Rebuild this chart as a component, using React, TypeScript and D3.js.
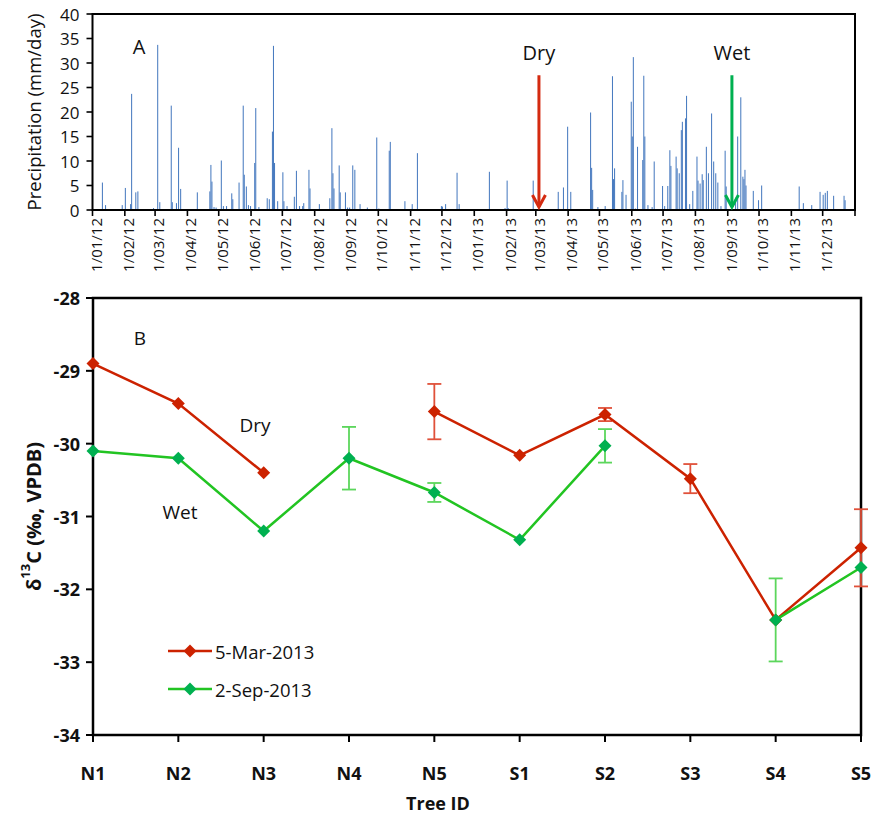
import React from 'react';
import * as d3 from 'd3';

// ---------- Panel A data: daily precipitation (mm/day) ----------
const rainDates = [
  '2012-01-10','2012-01-13','2012-01-29','2012-02-01','2012-02-06','2012-02-07','2012-02-11','2012-02-13','2012-02-28',
  '2012-03-03','2012-03-05','2012-03-16','2012-03-17','2012-03-21','2012-03-23','2012-03-25','2012-04-10','2012-04-22',
  '2012-04-23','2012-04-24','2012-04-26','2012-04-28','2012-05-03','2012-05-05','2012-05-08','2012-05-13','2012-05-14',
  '2012-05-20','2012-05-24','2012-05-25','2012-05-27','2012-05-29','2012-05-31','2012-06-04','2012-06-05','2012-06-08',
  '2012-06-16','2012-06-18','2012-06-21','2012-06-22','2012-06-23','2012-06-26','2012-07-01','2012-07-02','2012-07-05',
  '2012-07-12','2012-07-14','2012-07-17','2012-07-20','2012-07-21','2012-07-26','2012-07-27','2012-08-05','2012-08-15',
  '2012-08-17','2012-08-18','2012-08-19','2012-08-24','2012-08-25','2012-08-30','2012-09-01','2012-09-03','2012-09-06',
  '2012-09-08','2012-09-13','2012-09-20','2012-09-29','2012-10-01','2012-10-11','2012-10-12','2012-10-26','2012-11-02',
  '2012-11-07','2012-11-30','2012-12-01','2012-12-04','2012-12-15','2012-12-17',
  '2013-01-15','2013-01-30','2013-02-01','2013-02-02','2013-02-26','2013-03-22','2013-03-27','2013-03-31','2013-04-03',
  '2013-04-22','2013-04-23','2013-04-24','2013-04-29','2013-05-06','2013-05-13','2013-05-14','2013-05-15','2013-05-22',
  '2013-05-23','2013-05-26','2013-05-31','2013-06-01','2013-06-02','2013-06-04','2013-06-06','2013-06-11','2013-06-12',
  '2013-06-13','2013-06-16','2013-06-20','2013-06-22','2013-06-30','2013-07-02','2013-07-05','2013-07-07','2013-07-08',
  '2013-07-13','2013-07-14','2013-07-16','2013-07-18','2013-07-19','2013-07-22','2013-07-23','2013-07-26','2013-07-29',
  '2013-08-02','2013-08-03','2013-08-05','2013-08-07','2013-08-08','2013-08-11','2013-08-13','2013-08-16','2013-08-18',
  '2013-08-20','2013-08-22','2013-08-25','2013-08-29','2013-08-30','2013-09-08','2013-09-10','2013-09-13','2013-09-15',
  '2013-09-16','2013-09-17','2013-09-18','2013-09-25','2013-09-30','2013-10-03','2013-11-08','2013-11-12','2013-11-20',
  '2013-11-28','2013-12-01','2013-12-03','2013-12-05','2013-12-11','2013-12-21','2013-12-22',
];
const rainValues = [
  5.6, 1.0, 1.0, 4.5, 1.2, 23.7, 3.6, 3.8, 0.4,
  33.7, 1.6, 21.3, 1.6, 1.4, 12.7, 4.3, 3.6, 3.8,
  9.2, 5.8, 0.6, 0.5, 10.1, 0.8, 0.8, 3.4, 2.2,
  5.6, 21.3, 7.2, 4.8, 1.0, 0.8, 9.6, 20.8, 0.6,
  2.4, 2.2, 16.0, 33.5, 9.6, 1.8, 7.7, 1.8, 0.8,
  2.7, 8.0, 0.8, 0.8, 1.4, 8.2, 4.4, 1.2, 2.4,
  16.7, 7.5, 4.4, 9.1, 3.6, 3.6, 0.5, 0.5, 9.1,
  8.2, 1.2, 0.5, 14.8, 0.3, 12.1, 13.9, 1.8, 1.2,
  11.6, 0.8, 0.7, 1.2, 7.6, 1.2,
  7.8, 0.4, 6.0, 0.4, 6.0, 3.7, 4.6, 17.0, 3.7,
  19.9, 8.6, 4.1, 0.6, 0.8, 27.3, 6.3, 8.5, 3.7,
  6.1, 3.1, 22.1, 15.0, 31.2, 0.3, 12.9, 10.2, 27.4,
  15.0, 1.0, 0.6, 9.9, 4.9, 0.8, 4.9, 12.2, 9.0,
  10.9, 8.5, 7.5, 16.3, 18.0, 18.7, 23.3, 1.2, 3.9,
  10.9, 6.0, 5.4, 7.3, 6.1, 12.9, 7.5, 19.7, 9.9,
  7.5, 5.6, 0.8, 12.1, 4.8, 2.5, 15.0, 23.0, 6.8,
  6.3, 8.2, 5.0, 3.9, 2.0, 5.0, 4.8, 1.4, 1.0,
  3.7, 3.1, 3.5, 3.9, 2.9, 2.9, 2.0,
];
const rainTicks = [0, 5, 10, 15, 20, 25, 30, 35, 40];
const monthLabels = [
  '1/01/12','1/02/12','1/03/12','1/04/12','1/05/12','1/06/12','1/07/12','1/08/12','1/09/12','1/10/12','1/11/12','1/12/12',
  '1/01/13','1/02/13','1/03/13','1/04/13','1/05/13','1/06/13','1/07/13','1/08/13','1/09/13','1/10/13','1/11/13','1/12/13',
];
const samplingDates = ['2013-03-04', '2013-09-05'];
const samplingLabels = ['Dry', 'Wet'];

// ---------- Panel B data: δ13C by tree ----------
const trees = ['N1','N2','N3','N4','N5','S1','S2','S3','S4','S5'];
const dryValues: (number | null)[] = [-28.9, -29.45, -30.4, null, -29.56, -30.16, -29.6, -30.48, -32.42, -31.43];
const dryErrors: (number | null)[] = [0, 0, 0, null, 0.38, 0, 0.09, 0.2, 0, 0.53];
const wetValues: (number | null)[] = [-30.1, -30.2, -31.2, -30.2, -30.67, -31.32, -30.03, null, -32.42, -31.7];
const wetErrors: (number | null)[] = [0, 0, 0, 0.43, 0.13, 0, 0.23, null, 0.57, 0];
const c13Ticks = [-34, -33, -32, -31, -30, -29, -28];
const seriesNames = ['5-Mar-2013', '2-Sep-2013'];

const FONT = "'Open Sans', 'DejaVu Sans', sans-serif";
const RED = '#cc2200';
const RED_ERR = '#e0513a';
const GREEN_LINE = '#22c422';
const GREEN_MARK = '#00b050';
const GREEN_ERR = '#5cd65c';
const BAR = '#4a7cc0';

const parseDay = d3.utcParse('%Y-%m-%d');
const parseLabel = d3.utcParse('%d/%m/%y');

function diamond(x: number, y: number, r: number) {
  return `M${x},${y - r}L${x + r},${y}L${x},${y + r}L${x - r},${y}Z`;
}

export default function App() {
  // ---------- Panel A ----------
  const A = { l: 92.5, r: 855, t: 14, b: 210 };
  const x = d3.scaleUtc().domain([Date.UTC(2012, 0, 1), Date.UTC(2014, 0, 1)]).range([A.l, A.r]);
  const y = d3.scaleLinear().domain([0, 40]).range([A.b, A.t]);
  const monthTicks = d3.utcMonth.range(new Date(Date.UTC(2012, 0, 1)), new Date(Date.UTC(2014, 0, 2)));

  const bars = rainDates.map((s, i) => {
    const d = parseDay(s)!;
    const x0 = x(d);
    const x1 = x(d3.utcDay.offset(d, 1));
    return { x0, w: x1 - x0, y0: y(rainValues[i]) };
  });

  // ---------- Panel B ----------
  const B = { l: 93, r: 861, t: 298, b: 735 };
  const xt = d3.scalePoint<string>().domain(trees).range([B.l, B.r]).padding(0);
  const yc = d3.scaleLinear().domain([-34, -28]).range([B.b, B.t]);
  const line = d3.line<number | null>()
    .defined((v) => v != null)
    .x((_, i) => xt(trees[i])!)
    .y((v) => yc(v as number));

  const series = [
    { vals: dryValues, errs: dryErrors, line: RED, mark: RED, err: RED_ERR },
    { vals: wetValues, errs: wetErrors, line: GREEN_LINE, mark: GREEN_MARK, err: GREEN_ERR },
  ];

  return (
    <svg width={874} height={816} style={{ position: 'absolute', left: 0, top: 0, background: '#fff' }} fontFamily={FONT}>
      <rect x={0} y={0} width={874} height={816} fill="#fff" />
      {/* ===== Panel A ===== */}
      {bars.map((b, i) => (
        <rect key={i} x={b.x0} y={b.y0} width={b.w} height={A.b - b.y0} fill={BAR} />
      ))}
      <rect x={A.l} y={A.t} width={A.r - A.l} height={A.b - A.t} fill="none" stroke="#000" strokeWidth={2} />
      {rainTicks.map((t) => (
        <g key={t}>
          <line x1={A.l - 6} x2={A.l} y1={y(t)} y2={y(t)} stroke="#000" strokeWidth={1.6} />
          <text x={A.l - 13} y={y(t)} textAnchor="end" dominantBaseline="central" fontSize={17} fill="#111">{t}</text>
        </g>
      ))}
      {monthTicks.map((d, i) => (
        <line key={i} x1={x(d)} x2={x(d)} y1={A.b} y2={A.b + 6} stroke="#000" strokeWidth={1.6} />
      ))}
      {monthLabels.map((s) => {
        const px = x(parseLabel(s)!) + 3;
        return (
          <text key={s} transform={`translate(${px},${A.b + 8}) rotate(-90)`} textAnchor="end" dominantBaseline="central" fontSize={15} fill="#111">{s}</text>
        );
      })}
      <text transform={`translate(33,${(A.t + A.b) / 2}) rotate(-90)`} textAnchor="middle" dominantBaseline="central" fontSize={18.5} fill="#111">Precipitation (mm/day)</text>
      <text x={139} y={46} textAnchor="middle" dominantBaseline="central" fontSize={20} fill="#111">A</text>
      {samplingDates.map((s, i) => {
        const px = x(parseDay(s)!);
        const col = i === 0 ? '#d42a10' : '#00b050';
        const yTop = y(27.5);
        const yTip = y(0.4);
        return (
          <g key={s}>
            <text x={px} y={52} textAnchor="middle" dominantBaseline="central" fontSize={20} fill="#111">{samplingLabels[i]}</text>
            <line x1={px} x2={px} y1={yTop} y2={yTip - 1} stroke={col} strokeWidth={3} />
            <path d={`M${px - 6.5},${yTip - 13}L${px},${yTip - 1}L${px + 6.5},${yTip - 13}`} fill="none" stroke={col} strokeWidth={3} strokeLinejoin="miter" />
          </g>
        );
      })}

      {/* ===== Panel B ===== */}
      <rect x={B.l} y={B.t} width={B.r - B.l} height={B.b - B.t} fill="none" stroke="#000" strokeWidth={2.5} />
      {c13Ticks.map((t) => (
        <g key={t}>
          <line x1={B.l - 7} x2={B.l} y1={yc(t)} y2={yc(t)} stroke="#000" strokeWidth={2} />
          <text x={B.l - 13} y={yc(t)} textAnchor="end" dominantBaseline="central" fontSize={18} fontWeight="bold" fill="#111">{t}</text>
        </g>
      ))}
      {trees.map((t) => (
        <g key={t}>
          <line x1={xt(t)!} x2={xt(t)!} y1={B.b} y2={B.b + 7} stroke="#000" strokeWidth={2} />
          <text x={xt(t)!} y={B.b + 38} textAnchor="middle" dominantBaseline="central" fontSize={18} fontWeight="bold" fill="#111">{t}</text>
        </g>
      ))}
      <text x={(B.l + B.r) / 2 - 39} y={803} textAnchor="middle" dominantBaseline="central" fontSize={18} fontWeight="bold" fill="#111">Tree ID</text>
      <text transform={`translate(33,${(B.t + B.b) / 2}) rotate(-90)`} textAnchor="middle" dominantBaseline="central" fontSize={20} fontWeight="bold" fill="#111">
        δ<tspan fontSize={13} dy={-8}>13</tspan><tspan dy={8}>C  (‰, VPDB)</tspan>
      </text>
      <text x={140} y={338} textAnchor="middle" dominantBaseline="central" fontSize={19} fill="#111">B</text>
      <text x={255} y={425} textAnchor="middle" dominantBaseline="central" fontSize={19} fill="#111">Dry</text>
      <text x={180} y={512} textAnchor="middle" dominantBaseline="central" fontSize={19} fill="#111">Wet</text>

      {series.map((s, si) => (
        <g key={si}>
          {s.vals.map((v, i) => {
            const e = s.errs[i];
            if (v == null || !e) return null;
            const px = xt(trees[i])!;
            return (
              <g key={i} stroke={s.err} strokeWidth={1.8}>
                <line x1={px} x2={px} y1={yc(v + e)} y2={yc(v - e)} />
                <line x1={px - 7} x2={px + 7} y1={yc(v + e)} y2={yc(v + e)} />
                <line x1={px - 7} x2={px + 7} y1={yc(v - e)} y2={yc(v - e)} />
              </g>
            );
          })}
          <path d={line(s.vals) || ''} fill="none" stroke={s.line} strokeWidth={2.5} />
          {s.vals.map((v, i) => v == null ? null : (
            <path key={i} d={diamond(xt(trees[i])!, yc(v), 6.5)} fill={s.mark} />
          ))}
        </g>
      ))}

      {/* Legend */}
      {seriesNames.map((n, i) => {
        const ly = 651 + i * 38;
        const s = series[i];
        return (
          <g key={n}>
            <line x1={168} x2={212} y1={ly} y2={ly} stroke={s.line} strokeWidth={2.5} />
            <path d={diamond(190, ly, 6.5)} fill={s.mark} />
            <text x={215} y={ly} dominantBaseline="central" fontSize={18.5} fill="#111">{n}</text>
          </g>
        );
      })}
    </svg>
  );
}
